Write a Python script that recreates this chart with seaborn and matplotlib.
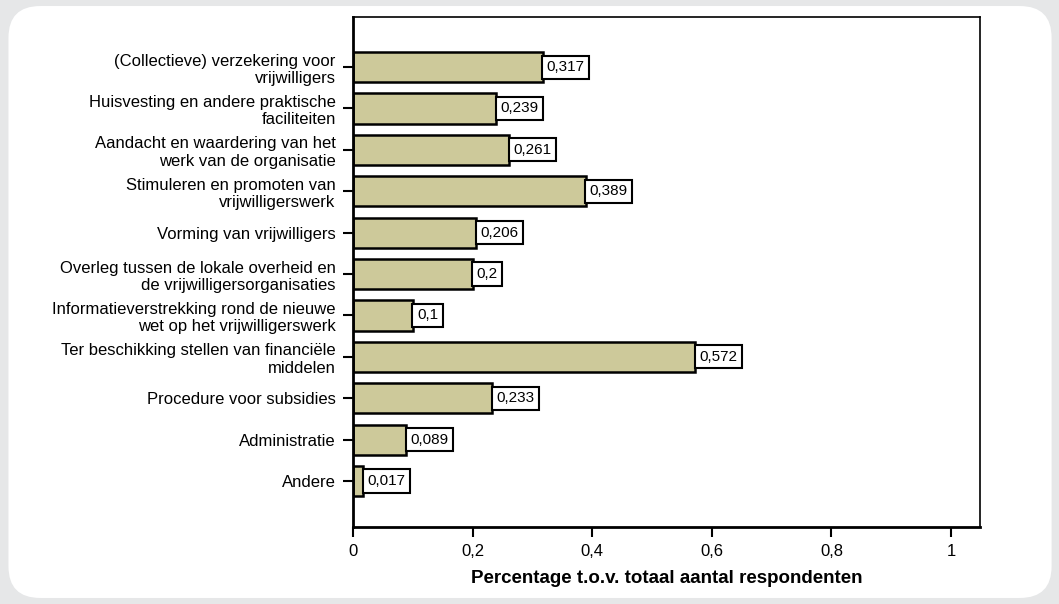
import matplotlib
matplotlib.use("Agg")
import matplotlib.pyplot as plt
import seaborn as sns
import pandas as pd
from matplotlib.patches import FancyBboxPatch

categories = [
    "(Collectieve) verzekering voor\nvrijwilligers",
    "Huisvesting en andere praktische\nfaciliteiten",
    "Aandacht en waardering van het\nwerk van de organisatie",
    "Stimuleren en promoten van\nvrijwilligerswerk",
    "Vorming van vrijwilligers",
    "Overleg tussen de lokale overheid en\nde vrijwilligersorganisaties",
    "Informatieverstrekking rond de nieuwe\nwet op het vrijwilligerswerk",
    "Ter beschikking stellen van financiële\nmiddelen",
    "Procedure voor subsidies",
    "Administratie",
    "Andere",
]
values = [0.317, 0.239, 0.261, 0.389, 0.206, 0.2, 0.1, 0.572, 0.233, 0.089, 0.017]
value_labels = ["0,317", "0,239", "0,261", "0,389", "0,206", "0,2", "0,1",
                "0,572", "0,233", "0,089", "0,017"]
x_ticks = [0, 0.2, 0.4, 0.6, 0.8, 1]
x_tick_labels = ["0", "0,2", "0,4", "0,6", "0,8", "1"]

sns.set_style("white")
plt.rcParams["font.family"] = ["Liberation Sans", "DejaVu Sans"]
plt.rcParams["text.color"] = "black"
plt.rcParams["xtick.color"] = "black"
plt.rcParams["ytick.color"] = "black"
plt.rcParams["axes.labelcolor"] = "black"

fig = plt.figure(figsize=(10.59, 6.04), dpi=100)
fig.patch.set_facecolor("#e6e7e8")
panel = FancyBboxPatch((0.008, 0.01), 0.985, 0.98,
                       boxstyle="round,pad=0,rounding_size=0.03",
                       transform=fig.transFigure, facecolor="white",
                       edgecolor="none", mutation_aspect=1.75, zorder=-5)
fig.patches.append(panel)

ax = fig.add_axes([353 / 1059, 1 - 527 / 604, (980 - 353) / 1059, (527 - 17) / 604])
ax.set_facecolor("white")
ax.set_zorder(1)

df = pd.DataFrame({"cat": categories, "val": values})
sns.barplot(data=df, x="val", y="cat", orient="h", ax=ax,
            color="#cdc99a", saturation=1, width=0.73,
            edgecolor="black", linewidth=1.8)

for i, (v, lab) in enumerate(zip(values, value_labels)):
    ax.annotate(lab, xy=(v, i), xytext=(3, 0), textcoords="offset points",
                va="center", ha="left", fontsize=11,
                bbox=dict(boxstyle="square,pad=0.3", facecolor="white",
                          edgecolor="black", linewidth=1.5))

ax.set_xlim(0, 1.0485)
ax.set_ylim(11.11, -1.21)
ax.set_xticks(x_ticks)
ax.set_xticklabels(x_tick_labels, fontsize=12)
ax.tick_params(axis="y", labelsize=12)
ax.tick_params(axis="both", direction="out", length=7.5, width=1.5,
               color="black", left=True, bottom=True, pad=5)
ax.set_ylabel("")
ax.set_xlabel("Percentage t.o.v. totaal aantal respondenten",
              fontsize=13.5, fontweight="bold", labelpad=8)

for side in ["left", "bottom"]:
    ax.spines[side].set_linewidth(2)
    ax.spines[side].set_color("black")
for side in ["top", "right"]:
    ax.spines[side].set_visible(True)
    ax.spines[side].set_linewidth(1.2)
    ax.spines[side].set_color("black")

fig.savefig("out.png", dpi=100, facecolor=fig.get_facecolor())
